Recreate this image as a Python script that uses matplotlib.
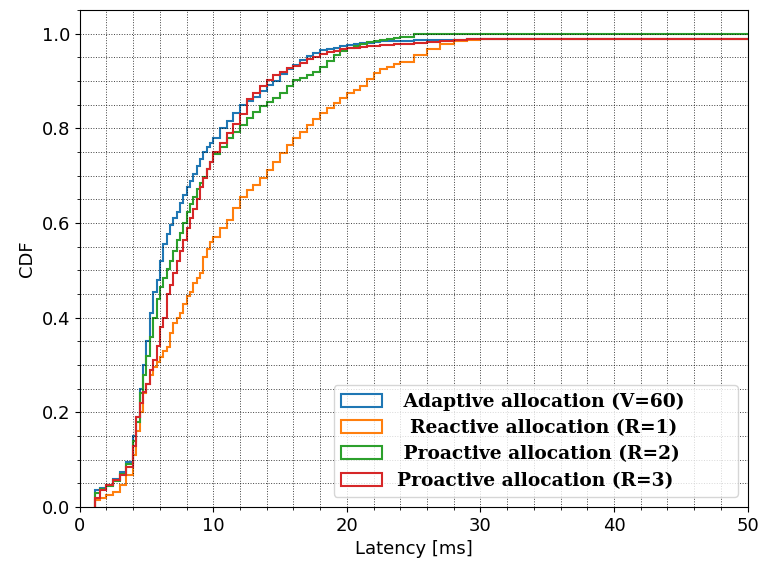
import numpy as np
import matplotlib
matplotlib.use('Agg')
import matplotlib.pyplot as plt
from matplotlib.patches import Patch
from matplotlib.ticker import MultipleLocator

# latency bin edges [ms] (last edge is past the plot range)
edges = np.r_[[1.15, 1.5, 2.0, 2.5, 3.0, 3.5],
              np.arange(4.0, 10.01, 0.25),
              np.arange(10.5, 24.01, 0.5),
              np.arange(25.0, 32.01, 1.0),
              [60.0]]

# CDF values (one per bin)
adaptive_v60 = [0.035, 0.04, 0.047, 0.06, 0.075, 0.095,
                0.15, 0.19, 0.25, 0.30, 0.35, 0.41, 0.455, 0.48, 0.52, 0.555, 0.578, 0.595,
                0.61, 0.624, 0.643, 0.66, 0.677, 0.69, 0.703, 0.72, 0.735, 0.75, 0.76, 0.77, 0.779,
                0.80, 0.815, 0.832, 0.849, 0.858, 0.866, 0.88, 0.892, 0.90, 0.915, 0.925, 0.935,
                0.945, 0.953, 0.96, 0.966, 0.968, 0.971, 0.974, 0.976, 0.978, 0.98, 0.981, 0.983,
                0.984, 0.984, 0.985, 0.985,
                0.986, 0.986, 0.987, 0.987, 0.988, 0.988, 0.988, 0.988]

reactive_r1 = [0.015, 0.02, 0.025, 0.032, 0.046, 0.068,
               0.11, 0.16, 0.20, 0.24, 0.261, 0.28, 0.295, 0.306, 0.318, 0.33, 0.339, 0.367,
               0.388, 0.40, 0.409, 0.43, 0.445, 0.455, 0.473, 0.485, 0.494, 0.529, 0.545, 0.56, 0.571,
               0.589, 0.607, 0.631, 0.655, 0.67, 0.68, 0.695, 0.712, 0.73, 0.748, 0.765, 0.779,
               0.792, 0.807, 0.82, 0.832, 0.843, 0.853, 0.865, 0.874, 0.882, 0.89, 0.905, 0.918,
               0.925, 0.93, 0.936, 0.941,
               0.955, 0.967, 0.978, 0.985, 0.987, 0.988, 0.989, 0.99]

proactive_r2 = [0.03, 0.038, 0.045, 0.055, 0.07, 0.09,
                0.14, 0.18, 0.24, 0.28, 0.32, 0.36, 0.40, 0.44, 0.465, 0.485, 0.504, 0.52,
                0.54, 0.564, 0.58, 0.60, 0.624, 0.64, 0.656, 0.673, 0.685, 0.698, 0.715, 0.73, 0.747,
                0.76, 0.78, 0.793, 0.808, 0.822, 0.835, 0.847, 0.856, 0.864, 0.874, 0.89, 0.902,
                0.907, 0.912, 0.92, 0.93, 0.943, 0.955, 0.963, 0.969, 0.974, 0.979, 0.982, 0.985,
                0.987, 0.989, 0.991, 0.993,
                1.0, 1.0, 1.0, 1.0, 1.0, 1.0, 1.0, 1.0]

proactive_r3 = [0.02, 0.036, 0.046, 0.057, 0.068, 0.085,
                0.13, 0.19, 0.22, 0.244, 0.26, 0.29, 0.31, 0.34, 0.38, 0.40, 0.451, 0.47,
                0.494, 0.52, 0.54, 0.565, 0.59, 0.61, 0.63, 0.65, 0.677, 0.695, 0.715, 0.73, 0.75,
                0.77, 0.79, 0.81, 0.83, 0.862, 0.875, 0.89, 0.903, 0.912, 0.92, 0.927, 0.933,
                0.938, 0.946, 0.951, 0.957, 0.961, 0.964, 0.967, 0.969, 0.971, 0.972, 0.974, 0.975,
                0.976, 0.977, 0.978, 0.979,
                0.981, 0.983, 0.985, 0.987, 0.988, 0.989, 0.99, 0.99]

series = [adaptive_v60, reactive_r1, proactive_r2, proactive_r3]
labels = [' Adaptive allocation (V=60)', '  Reactive allocation (R=1)',
          ' Proactive allocation (R=2)', 'Proactive allocation (R=3)']
colors = ['tab:blue', 'tab:orange', 'tab:green', 'tab:red']

fig = plt.figure(figsize=(7.59, 5.64), dpi=100)
ax = fig.add_axes([0.105, 0.101, 0.880, 0.881])

handles = []
for vals, lab, c in zip(series, labels, colors):
    ax.stairs(vals, edges, baseline=0, fill=False, color=c, linewidth=1.5)
    handles.append(Patch(facecolor='none', edgecolor=c, linewidth=1.5, label=lab))

ax.set_xlim(0, 50)
ax.set_ylim(0, 1.05)
ax.xaxis.set_major_locator(MultipleLocator(10))
ax.xaxis.set_minor_locator(MultipleLocator(2))
ax.yaxis.set_major_locator(MultipleLocator(0.2))
ax.yaxis.set_minor_locator(MultipleLocator(0.05))
ax.grid(True, which='both', linestyle=':', color='black', linewidth=0.7, alpha=0.75)
ax.tick_params(labelsize=13)

ax.set_xlabel('Latency [ms]', fontsize=13)
ax.set_ylabel('CDF', fontsize=13)

ax.legend(handles=handles, loc='lower left', bbox_to_anchor=(0.380, 0.020, 0.605, 0.23),
          mode='expand', borderaxespad=0,
          prop={'family': 'DejaVu Serif', 'weight': 'bold', 'size': 13.4},
          handlelength=2.2, handletextpad=0.8, labelspacing=0.45)

fig.savefig('out.png', dpi=100)
